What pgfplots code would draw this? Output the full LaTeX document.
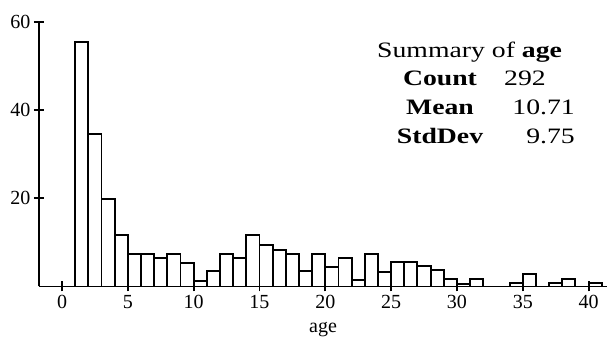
\documentclass[border=0pt]{standalone}
\usepackage{fontspec}
\setmainfont{Liberation Serif}
\usepackage{pgfplots}
\pgfplotsset{compat=1.18}
\newcommand{\sx}[1]{\scalebox{1.26}[1]{#1}}
\begin{document}
\begin{tikzpicture}
\begin{axis}[
  at={(0pt,0pt)}, anchor=south west,
  scale only axis, width=568pt, height=264.8pt,
  xmin=-1.75, xmax=41.4, ymin=0, ymax=60,
  axis x line*=bottom, axis y line*=left,
  axis line style={-, line width=1.9pt},
  xtick={0,5,...,40}, ytick={20,40,60},
  tick align=center, major tick length=10pt,
  tick style={line width=1.9pt, black},
  every tick label/.append style={font=\fontsize{20}{24}\selectfont},
  /pgf/number format/assume math mode=true,
  xlabel={age},
  xlabel style={font=\fontsize{20}{24}\selectfont, at={(axis description cs:0.5,0)}, anchor=base, yshift=-46.5pt},
  clip=false,
]
\addplot[ybar interval, draw=black, fill=white, line width=1.9pt] coordinates {
(1,55.4) (2,34.6) (3,19.8) (4,11.7) (5,7.4) (6,7.4) (7,6.4) (8,7.4) (9,5.4) (10,1.25)
(11,3.5) (12,7.4) (13,6.4) (14,11.7) (15,9.4) (16,8.3) (17,7.4) (18,3.5) (19,7.4) (20,4.5)
(21,6.4) (22,1.4) (23,7.4) (24,3.2) (25,5.6) (26,5.6) (27,4.6) (28,3.7) (29,1.7) (30,0.5)
(31,1.6) (32,0) (33,0) (34,0.7) (35,2.9) (36,0) (37,0.7) (38,1.7) (39,0) (40,0.75) (41,0)
};
\end{axis}
\pgfresetboundingbox
\path[use as bounding box] (-39pt,-50.5pt) rectangle (572pt,286.5pt);
\begin{scope}[every node/.style={inner sep=0pt, font=\fontsize{22}{26}\selectfont}]
\node[anchor=base west] at (338pt,228.5pt) {\sx{Summary of \textbf{age}}};
\node[anchor=base] at (401pt,200.8pt) {\sx{\textbf{Count}}};
\node[anchor=base] at (401pt,171.5pt) {\sx{\textbf{Mean}}};
\node[anchor=base] at (401pt,143.2pt) {\sx{\textbf{StdDev}}};
\node[anchor=base east] at (507pt,200.8pt) {\sx{292}};
\node[anchor=base east] at (536pt,171.5pt) {\sx{10.71}};
\node[anchor=base east] at (536pt,143.2pt) {\sx{9.75}};
\end{scope}
\end{tikzpicture}
\end{document}
